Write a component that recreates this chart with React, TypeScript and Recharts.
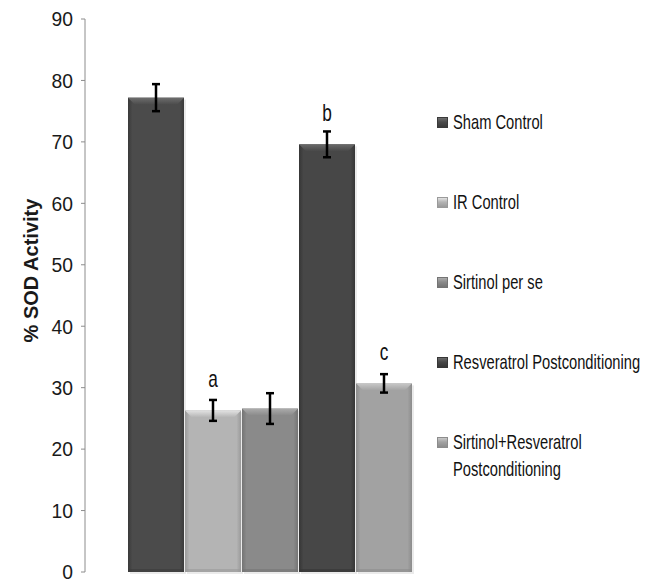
import React from 'react';
import { BarChart, Bar, XAxis, YAxis, ErrorBar, LabelList } from 'recharts';

// Mean SOD activity per group, with SEM and significance letters
const groupNames = [
    'Sham Control',
    'IR Control',
    'Sirtinol per se',
    'Resveratrol Postconditioning',
    'Sirtinol+Resveratrol Postconditioning'
];
const legendLines = [
    ['Sham Control'],
    ['IR Control'],
    ['Sirtinol per se'],
    ['Resveratrol Postconditioning'],
    ['Sirtinol+Resveratrol', 'Postconditioning']
];
const meanValues = [77.2, 26.3, 26.6, 69.6, 30.7];
const semValues = [2.2, 1.7, 2.5, 2.1, 1.5];
const sigLetters = ['', 'a', '', 'b', 'c'];
const yTicks = [0, 10, 20, 30, 40, 50, 60, 70, 80, 90];

const barColors = ['#4b4b4b', '#b4b4b4', '#8a8a8a', '#474747', '#a2a2a2'];
const edgeColors = ['#3a3a3a', '#9a9a9a', '#747474', '#363636', '#8c8c8c'];
const bevelColors = ['#6e6e6e', '#e2e2e2', '#acacac', '#6a6a6a', '#c8c8c8'];

const chartData = [
    meanValues.reduce<Record<string, number | string>>(
        (row, v, i) => {
            row[`m${i}`] = v;
            row[`e${i}`] = semValues[i];
            return row;
        },
        { group: 'SOD' }
    )
];

const sans = '"Liberation Sans", Arial, sans-serif';
// no narrow face installed, so text is squeezed horizontally instead
const TICK_SQUEEZE = 0.92;
const TEXT_SQUEEZE = 0.7;

// Excel-style bevelled bar: shaded body plus a light top bevel
const bevelShape = (i: number) => (props: any) => {
    const { x, y, width, height } = props;
    if (!height || height <= 0) return <g />;
    const b = Math.min(7, height / 2);
    return (
        <g>
            <rect x={x + 2} y={y + 2} width={width} height={height} fill="#000" opacity={0.08} />
            <rect x={x} y={y} width={width} height={height} fill={`url(#body${i})`} />
            <polygon
                points={`${x},${y} ${x + width},${y} ${x + width - b},${y + b} ${x + b},${y + b}`}
                fill={`url(#bevel${i})`}
            />
            <rect x={x} y={y + height - 3} width={width} height={3} fill={edgeColors[i]} opacity={0.6} />
        </g>
    );
};

const NarrowTick = (props: any) => {
    const { x, y, payload } = props;
    return (
        <text
            transform={`translate(${x},${y}) scale(${TICK_SQUEEZE},1)`}
            textAnchor="end"
            dominantBaseline="central"
            fontFamily={sans}
            fontSize={21}
            fill="#1a1a1a"
        >
            {payload.value}
        </text>
    );
};

const letterLabel = (letter: string) => (props: any) => {
    const { x, y, width } = props;
    if (!letter) return null;
    return (
        <text
            transform={`translate(${x + width / 2},${y - 31}) scale(0.75,1)`}
            textAnchor="middle"
            dominantBaseline="central"
            fontFamily={sans}
            fontSize={23}
            fill="#111"
        >
            {letter}
        </text>
    );
};

const App: React.FC = () => {
    return (
        <div style={{ position: 'absolute', left: 0, top: 0, width: 656, height: 581, background: '#fff' }}>
            <BarChart
                width={656}
                height={581}
                data={chartData}
                margin={{ top: 19, right: 201, bottom: 9, left: 0 }}
                barCategoryGap={43}
                barGap={1}
            >
                <defs>
                    {barColors.map((c, i) => (
                        <React.Fragment key={c + i}>
                            <linearGradient id={`body${i}`} x1="0" y1="0" x2="1" y2="0">
                                <stop offset="0%" stopColor={edgeColors[i]} />
                                <stop offset="8%" stopColor={c} />
                                <stop offset="92%" stopColor={c} />
                                <stop offset="100%" stopColor={edgeColors[i]} />
                            </linearGradient>
                            <linearGradient id={`bevel${i}`} x1="0" y1="0" x2="0" y2="1">
                                <stop offset="0%" stopColor={bevelColors[i]} />
                                <stop offset="100%" stopColor={c} />
                            </linearGradient>
                        </React.Fragment>
                    ))}
                </defs>
                <XAxis dataKey="group" hide />
                <YAxis
                    width={85}
                    domain={[0, 90]}
                    ticks={yTicks}
                    interval={0}
                    tickSize={4}
                    tickMargin={8}
                    axisLine={{ stroke: '#8c8c8c' }}
                    tickLine={{ stroke: '#8c8c8c' }}
                    tick={<NarrowTick />}
                    label={{
                        content: ({ viewBox }: any) => (
                            <text
                                x={31}
                                y={viewBox.y + viewBox.height / 2 - 25}
                                transform={`rotate(-90, 31, ${viewBox.y + viewBox.height / 2 - 25})`}
                                textAnchor="middle"
                                dominantBaseline="central"
                                fontFamily={sans}
                                fontWeight="bold"
                                fontSize={20}
                                fill="#1a1a1a"
                            >
                                % SOD Activity
                            </text>
                        )
                    }}
                />
                {groupNames.map((name, i) => (
                    <Bar
                        key={name}
                        name={name}
                        dataKey={`m${i}`}
                        fill={barColors[i]}
                        shape={bevelShape(i)}
                        isAnimationActive={false}
                    >
                        <ErrorBar dataKey={`e${i}`} direction="y" width={4} stroke="#000" strokeWidth={2.5} />
                        {sigLetters[i] && <LabelList dataKey={`m${i}`} content={letterLabel(sigLetters[i])} />}
                    </Bar>
                ))}
            </BarChart>
            <div
                style={{
                    position: 'absolute',
                    left: 437,
                    top: 108,
                    fontFamily: sans,
                    fontSize: 21,
                    color: '#111'
                }}
            >
                {legendLines.map((lines, i) => (
                    <div key={groupNames[i]} style={{ display: 'flex', alignItems: 'flex-start', marginBottom: 53 }}>
                        <span
                            style={{
                                display: 'inline-block',
                                flex: 'none',
                                width: 9,
                                height: 9,
                                marginTop: 9,
                                marginRight: 5,
                                background: `linear-gradient(${bevelColors[i]}, ${barColors[i]} 45%, ${edgeColors[i]})`,
                                border: `1px solid ${edgeColors[i]}`
                            }}
                        />
                        <div
                            style={{
                                lineHeight: '27px',
                                transform: `scaleX(${TEXT_SQUEEZE})`,
                                transformOrigin: 'left top'
                            }}
                        >
                            {lines.map((l) => (
                                <div key={l} style={{ whiteSpace: 'nowrap' }}>
                                    {l}
                                </div>
                            ))}
                        </div>
                    </div>
                ))}
            </div>
        </div>
    );
};

export default App;
